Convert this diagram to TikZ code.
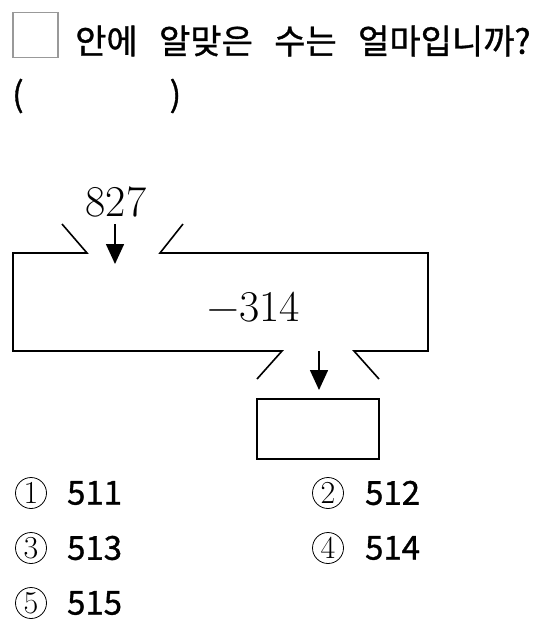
\documentclass[tikz,border=0pt]{standalone}
\usepackage{fontspec}
\usepackage{tikz}
\usetikzlibrary{arrows.meta,positioning}
\newfontfamily\kfont[WordSpace=2.8,FakeBold=1]{Noto Sans CJK KR}

\tikzset{
  machine/.style={line width=1.6pt},
  flow/.style={line width=1.6pt,-{Triangle[length=20pt,width=18pt]}},
  ktext/.style={font=\kfont\fontsize{34}{34}\selectfont,inner sep=0pt},
  numtext/.style={font=\kfont\fontsize{33}{33}\selectfont,inner sep=0pt},
  circnum/.style={draw,circle,line width=0.8pt,minimum size=31pt,inner sep=0pt,
    font=\fontsize{32}{32}\selectfont},
  bignum/.style={font=\fontsize{44}{44}\selectfont,inner sep=2pt}
}

\begin{document}
\begin{tikzpicture}[x=1pt,y=-1pt]
\useasboundingbox (0,0) rectangle (538,634);

% Question
\node[draw=black!40,line width=1.2pt,minimum size=45pt,inner sep=0pt] (blank) at (35.5,35) {};
\node[ktext,anchor=west] (question) at (75,41) {안에 알맞은 수는 얼마입니까?};
\node[ktext,anchor=west] (paren) at (12,96) {(\hspace{146pt})};

% Input number
\node[bignum] (input) at (116,202) {827};
\coordinate (inStart) at (115,224);
\coordinate (inEnd) at (115,264);

% Machine outline
\draw[machine] (62,224) -- (87,253) -- (13,253) -- (13,351) -- (282,351) -- (257,379);
\draw[machine] (183,224) -- (160,253) -- (428,253) -- (428,351) -- (354,351) -- (379,379);
\node[bignum] (rule) at (254,307) {−314};

% Output
\coordinate (outStart) at (319,351);
\coordinate (outEnd) at (319,390);
\node[draw,machine,minimum width=122pt,minimum height=60pt] (answer) at (318,429) {};

% Arrows
\draw[flow] (inStart) -- (inEnd);
\draw[flow] (outStart) -- (outEnd);

% Choices
\node[circnum] (c1) at (31,493) {1};
\node[numtext,right=20pt of c1] (a1) {511};
\node[circnum] (c2) at (328,493) {2};
\node[numtext,right=21pt of c2] (a2) {512};
\node[circnum] (c3) at (31,548) {3};
\node[numtext,right=20pt of c3] (a3) {513};
\node[circnum] (c4) at (328,548) {4};
\node[numtext,right=21pt of c4] (a4) {514};
\node[circnum] (c5) at (31,603) {5};
\node[numtext,right=20pt of c5] (a5) {515};
\end{tikzpicture}
\end{document}
